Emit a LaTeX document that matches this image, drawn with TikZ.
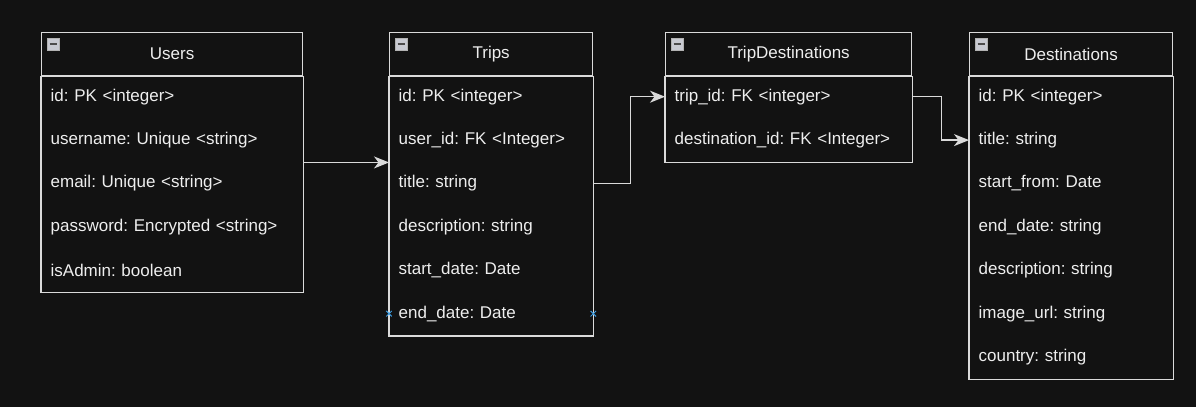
\documentclass[tikz,border=0pt]{standalone}
\usepackage{fontspec}
\setmainfont{Liberation Sans}
\usepackage{xcolor}
\usetikzlibrary{arrows.meta,shapes.misc}
\frenchspacing
\definecolor{bg}{HTML}{121212}
\definecolor{edge}{HTML}{DADADA}
\definecolor{txt}{HTML}{EEEEEE}
\definecolor{handle}{HTML}{3C9BE0}
\definecolor{icon}{HTML}{C8CAD2}
\tikzset{
  minbox/.style={draw=black!30,fill=icon,minimum size=12pt,inner sep=0pt,line width=0.4pt,
    path picture={\draw[black!70,line width=1.2pt]
      ([xshift=2.5pt]path picture bounding box.west) -- ([xshift=-2.5pt]path picture bounding box.east);}},
  handlemark/.style={cross out,draw=handle,minimum size=4.5pt,inner sep=0pt,line width=1pt}
}

\begin{document}
\begin{tikzpicture}[x=1pt,y=-1pt,line width=1.3pt,
    >={Stealth[length=15pt,width=12pt,inset=4.5pt]},
    every node/.style={text=txt,font=\fontsize{17}{20}\selectfont},
    head/.style={draw=edge,anchor=north west,minimum height=43pt,inner sep=0pt},
    row/.style={anchor=west,align=left,inner xsep=9pt,inner ysep=0pt,minimum height=43.4pt}]
    \fill[bg] (0,0) rectangle (1196,407);

    % Users
    \draw node at (41,32)[name=users,head,minimum width=261pt]{Users};
    \draw node at (53,44)[name=uicon,minbox]{};
    \draw node at (41,96.7)[name=uid,row,text width=243pt]{id: PK <integer>};
    \draw node at (41,140.1)[name=uname,row,text width=243pt]{username: Unique <string>};
    \draw node at (41,183.5)[name=umail,row,text width=243pt]{email: Unique <string>};
    \draw node at (41,226.9)[name=upass,row,text width=243pt]{password: Encrypted <string>};
    \draw node at (41,270.3)[name=uadmin,row,text width=243pt]{isAdmin: boolean};
    \draw[edge] (users.south west) rectangle (uadmin.south east);

    % Trips
    \draw node at (389,32)[name=trips,head,minimum width=203pt]{Trips};
    \draw node at (401,44)[name=ticon,minbox]{};
    \draw node at (389,96.7)[name=tid,row,text width=185pt]{id: PK <integer>};
    \draw node at (389,140.1)[name=tuser,row,text width=185pt]{user\_id: FK <Integer>};
    \draw node at (389,183.5)[name=ttitle,row,text width=185pt]{title: string};
    \draw node at (389,226.9)[name=tdesc,row,text width=185pt]{description: string};
    \draw node at (389,270.3)[name=tstart,row,text width=185pt]{start\_date: Date};
    \draw node at (389,313.7)[name=tend,row,text width=185pt]{end\_date: Date};
    \draw[edge] (trips.south west) rectangle (tend.south east);

    % TripDestinations
    \draw node at (665,32)[name=tripdest,head,minimum width=246pt]{TripDestinations};
    \draw node at (677,44)[name=tdicon,minbox]{};
    \draw node at (665,96.7)[name=tdtrip,row,text width=228pt]{trip\_id: FK <integer>};
    \draw node at (665,140.1)[name=tddest,row,text width=228pt]{destination\_id: FK <Integer>};
    \draw[edge] (tripdest.south west) rectangle (tddest.south east);

    % Destinations
    \draw node at (969,32)[name=dests,head,minimum width=203pt]{Destinations};
    \draw node at (981,44)[name=dicon,minbox]{};
    \draw node at (969,96.7)[name=did,row,text width=185pt]{id: PK <integer>};
    \draw node at (969,140.1)[name=dtitle,row,text width=185pt]{title: string};
    \draw node at (969,183.5)[name=dstart,row,text width=185pt]{start\_from: Date};
    \draw node at (969,226.9)[name=dend,row,text width=185pt]{end\_date: string};
    \draw node at (969,270.3)[name=ddesc,row,text width=185pt]{description: string};
    \draw node at (969,313.7)[name=dimg,row,text width=185pt]{image\_url: string};
    \draw node at (969,357.1)[name=dcountry,row,text width=185pt]{country: string};
    \draw[edge] (dests.south west) rectangle (dcountry.south east);

    % relations
    \draw[edge,->] (uname.south east) -- (tuser.south west);
    \draw[edge,->] (ttitle.east) -- ++(37,0) |- (tdtrip.west);
    \draw[edge,->] (tdtrip.east) -- ++(29,0) |- (dtitle.west);

    \begin{scope}
    \draw node at (tend.west)[name=hleft,handlemark]{};
    \draw node at (tend.east)[name=hright,handlemark]{};
    \end{scope}
\end{tikzpicture}
\end{document}
